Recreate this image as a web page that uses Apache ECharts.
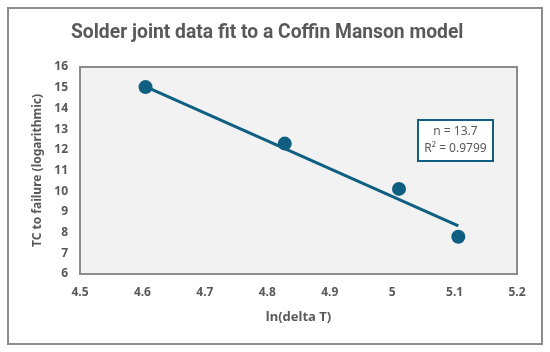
<!DOCTYPE html>
<html><head><meta charset="utf-8">
<script src="https://cdn.jsdelivr.net/npm/echarts@6/dist/echarts.min.js"></script>
<style>html,body{margin:0;padding:0;background:#fff}#c{width:550px;height:352px}</style>
</head><body><div id="c"></div>
<script>
const title = 'Solder joint data fit to a Coffin Manson model';
const xName = 'ln(delta T)';
const yName = 'TC to failure (logarithmic)';
const lnDeltaT = [4.605, 4.828, 5.011, 5.106];
const tcFailure = [15.03, 12.30, 10.11, 7.80];
const trendX = [4.605, 5.106];
const trendY = [15.05, 8.33];
const fitN = '13.7';
const fitR2 = '0.9799';

const chart = echarts.init(document.getElementById('c'), null, {renderer: 'canvas'});
const pts = lnDeltaT.map((x, i) => [x, tcFailure[i]]);
const trend = trendX.map((x, i) => [x, trendY[i]]);
const font = '"Noto Sans", "DejaVu Sans", sans-serif';
chart.setOption({
  animation: false,
  backgroundColor: '#ffffff',
  title: {text: title, left: 66, top: 19,
    textStyle: {fontFamily: 'Roboto, sans-serif', fontSize: 19.3, fontWeight: 'bold', color: '#595959'}},
  grid: {left: 80, right: 33, top: 67, bottom: 78, show: true, backgroundColor: '#f2f2f2', borderColor: '#8c8c8c', borderWidth: 2},
  xAxis: {type: 'value', min: 4.5, max: 5.2, interval: 0.1,
    name: xName, nameLocation: 'middle', nameGap: 37,
    nameTextStyle: {fontFamily: font, fontSize: 13, fontWeight: 'bold', color: '#595959'},
    axisLine: {show: false}, axisTick: {show: false}, splitLine: {show: false},
    axisLabel: {fontFamily: font, fontSize: 12, fontWeight: 'bold', color: '#595959', margin: 13,
      formatter: v => String(Math.round(v * 10) / 10)}},
  yAxis: {type: 'value', min: 6, max: 16, interval: 1,
    name: yName, nameLocation: 'middle', nameGap: 36,
    nameTextStyle: {fontFamily: font, fontSize: 12, fontWeight: 'bold', color: '#595959'},
    axisLine: {show: false}, axisTick: {show: false}, splitLine: {show: false},
    axisLabel: {fontFamily: font, fontSize: 12, fontWeight: 'bold', color: '#595959', margin: 12}},
  series: [
    {type: 'line', data: trend, symbol: 'none', lineStyle: {color: '#0f5f82', width: 3}, z: 2},
    {type: 'scatter', data: pts, symbolSize: 14, itemStyle: {color: '#0f5f82', opacity: 1}, z: 3}
  ],
  graphic: [
    {type: 'rect', shape: {x: 8, y: 8, width: 534, height: 336}, style: {fill: 'none', stroke: '#8c8c8c', lineWidth: 2}, z: 10},
    {type: 'rect', shape: {x: 418, y: 120, width: 75, height: 41}, style: {fill: '#ffffff', stroke: '#0f5f82', lineWidth: 2}, z: 10},
    {type: 'text', x: 455.5, y: 140.5, z: 11,
      style: {text: 'n = ' + fitN + '\nR² = ' + fitR2, align: 'center', verticalAlign: 'middle',
        fontFamily: font, fontSize: 12, lineHeight: 17, fill: '#595959'}}
  ]
});
</script></body></html>
